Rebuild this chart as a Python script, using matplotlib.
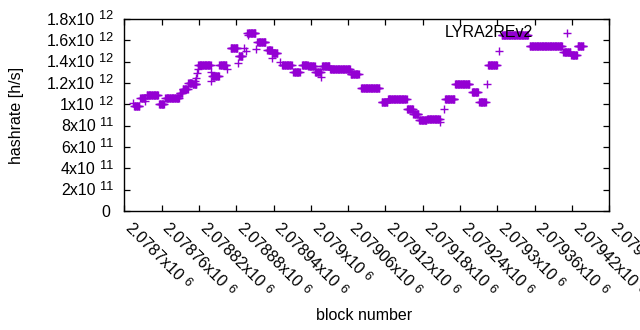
import numpy as np
import matplotlib
matplotlib.use('Agg')
import matplotlib.pyplot as plt
from matplotlib.font_manager import FontProperties

# ---- data ----
# runs of consecutive blocks sharing the same hashrate
seg_start = [2078716, 2078726, 2078736, 2078756, 2078766, 2078789, 2078794, 2078803, 2078810, 2078819,
             2078841, 2078853, 2078871, 2078884, 2078898, 2078914, 2078930, 2078938, 2078954, 2078972,
             2078986, 2078996, 2079007, 2079018, 2079031, 2079064, 2079081, 2079114, 2079124, 2079155,
             2079165, 2079174, 2079187, 2079216, 2079232, 2079259, 2079271, 2079285, 2079307, 2079352,
             2079406, 2079419, 2079429]
seg_end = [2078724, 2078734, 2078754, 2078764, 2078788, 2078793, 2078802, 2078809, 2078816, 2078839,
           2078852, 2078864, 2078882, 2078890, 2078911, 2078927, 2078937, 2078946, 2078969, 2078982,
           2078995, 2079006, 2079016, 2079030, 2079063, 2079077, 2079110, 2079123, 2079154, 2079164,
           2079173, 2079186, 2079207, 2079231, 2079255, 2079269, 2079281, 2079299, 2079349, 2079404,
           2079417, 2079428, 2079438]
seg_value = [0.98e12, 1.06e12, 1.085e12, 1.005e12, 1.055e12, 1.105e12, 1.14e12, 1.2e12, 1.19e12, 1.373e12,
             1.265e12, 1.373e12, 1.525e12, 1.45e12, 1.67e12, 1.58e12, 1.507e12, 1.48e12, 1.373e12, 1.3e12,
             1.373e12, 1.357e12, 1.3e12, 1.36e12, 1.33e12, 1.28e12, 1.153e12, 1.025e12, 1.047e12, 0.956e12,
             0.91e12, 0.85e12, 0.863e12, 1.047e12, 1.19e12, 1.115e12, 1.025e12, 1.37e12, 1.65e12, 1.544e12,
             1.49e12, 1.46e12, 1.55e12]
# isolated blocks
pt_block = [2078714, 2078733, 2078813, 2078815, 2078817, 2078818, 2078840, 2078839, 2078865, 2078883,
            2078892, 2078896, 2078899, 2078912, 2078937, 2078950, 2079017, 2079208, 2079214, 2079283,
            2079303]
pt_value = [1.01e12, 1.03e12, 1.22e12, 1.25e12, 1.29e12, 1.33e12, 1.30e12, 1.22e12, 1.33e12, 1.39e12,
            1.53e12, 1.50e12, 1.65e12, 1.52e12, 1.43e12, 1.40e12, 1.26e12, 0.83e12, 0.956e12, 1.19e12,
            1.50e12]

x_ticks = [2078700, 2078760, 2078820, 2078880, 2078940, 2079000, 2079060, 2079120, 2079180, 2079240,
           2079300, 2079360, 2079420, 2079480]
x_tick_mant = ['2.0787', '2.07876', '2.07882', '2.07888', '2.07894', '2.079', '2.07906', '2.07912',
               '2.07918', '2.07924', '2.0793', '2.07936', '2.07942', '2.07948']
x_tick_exp = ['6'] * 14
y_ticks = [0, 2e11, 4e11, 6e11, 8e11, 1e12, 1.2e12, 1.4e12, 1.6e12, 1.8e12]
y_tick_mant = ['0', '2', '4', '6', '8', '1', '1.2', '1.4', '1.6', '1.8']
y_tick_exp = ['', '11', '11', '11', '11', '12', '12', '12', '12', '12']

series_label = 'LYRA2REv2'
color = '#9400d3'

# ---- figure ----
W, H = 640, 330
FS = 11.5
FONT = 'Liberation Sans'
plt.rcParams['font.family'] = [FONT, 'DejaVu Sans']
plt.rcParams['font.size'] = FS

fig = plt.figure(figsize=(W / 100, H / 100), dpi=100)
L, R, T, B = 124.3, 609.3, 19.0, 211.0
ax = fig.add_axes([L / W, 1 - B / H, (R - L) / W, (B - T) / H])

xs = [np.arange(s, e + 1) for s, e in zip(seg_start, seg_end)]
ys = [np.full(len(a), v) for a, v in zip(xs, seg_value)]
bx = np.concatenate(xs + [np.array(pt_block)])
by = np.concatenate(ys + [np.array(pt_value)])
ax.plot(bx, by, linestyle='none', marker='+', ms=5.2, mew=1.0, color=color, zorder=3)

ax.set_xlim(x_ticks[0], x_ticks[-1])
ax.set_ylim(0, 1.8e12)
ax.set_xticks(x_ticks)
ax.set_yticks(y_ticks)
ax.set_xticklabels([])
ax.set_yticklabels([])
ax.tick_params(direction='in', length=4.5, width=0.9, top=True, right=True, color='black')
for sp in ax.spines.values():
    sp.set_linewidth(1.0)
    sp.set_color('black')

fig.canvas.draw()
renderer = fig.canvas.get_renderer()
fp_main = FontProperties(family=FONT, size=FS)
fp_exp = FontProperties(family=FONT, size=FS * 0.8)

def tw(s, fp):
    w, h, d = renderer.get_text_width_height_descent(s, fp, ismath=False)
    return w

space = 0.278 * FS * 100 / 72
raise_px = 5.5

# y tick labels ("mant x10" + raised exponent)
yexp_right = L - 11.0
for v, m, e in zip(y_ticks, y_tick_mant, y_tick_exp):
    if e == '':
        ax.annotate(m, xy=(0, v), xycoords=('axes fraction', 'data'),
                    xytext=(-(L - 110.5), -5.75), textcoords='offset pixels',
                    ha='right', va='baseline', fontproperties=fp_main, color='black')
        continue
    ew = tw(e, fp_exp)
    ax.annotate(e, xy=(0, v), xycoords=('axes fraction', 'data'),
                xytext=(-(L - yexp_right), -5.75 + raise_px), textcoords='offset pixels',
                ha='right', va='baseline', fontproperties=fp_exp, color='black')
    ax.annotate(m + 'x10', xy=(0, v), xycoords=('axes fraction', 'data'),
                xytext=(-(L - yexp_right) - ew - space, -5.75), textcoords='offset pixels',
                ha='right', va='baseline', fontproperties=fp_main, color='black')

# x tick labels, rotated -45 degrees
d = np.array([np.cos(np.radians(-45)), np.sin(np.radians(-45))])   # text direction
u = np.array([-d[1], d[0]])                                          # text "up"
base_dy = -(229 - B)
xraise = 3.5
for t, m, e in zip(x_ticks, x_tick_mant, x_tick_exp):
    main = m + 'x10'
    mw = tw(main, fp_main)
    ax.annotate(main, xy=(t, 0), xycoords=('data', 'axes fraction'),
                xytext=(0, base_dy), textcoords='offset pixels', rotation=-45,
                rotation_mode='anchor', ha='left', va='baseline',
                fontproperties=fp_main, color='black', annotation_clip=False)
    p = np.array([0, base_dy]) + (mw + space) * d + xraise * u
    ax.annotate(e, xy=(t, 0), xycoords=('data', 'axes fraction'),
                xytext=(p[0], p[1]), textcoords='offset pixels', rotation=-45,
                rotation_mode='anchor', ha='left', va='baseline',
                fontproperties=fp_exp, color='black', annotation_clip=False)

# axis labels
fig.text(17 / W, 1 - 115 / H, 'hashrate [h/s]', rotation=90, ha='center', va='center',
         fontproperties=fp_main, color='black')
fig.text(364 / W, 1 - 316 / H, 'block number', ha='center', va='center',
         fontproperties=fp_main, color='black')

# key
fig.text(533 / W, 1 - 37.3 / H, series_label, ha='right', va='baseline',
         fontproperties=fp_main, color='black', zorder=1)
ax.plot([567 / W], [1 - 32.7 / H], transform=fig.transFigure, linestyle='none',
        marker='+', ms=5.2, mew=1.0, color=color, clip_on=False)

fig.savefig('out.png', dpi=100)
